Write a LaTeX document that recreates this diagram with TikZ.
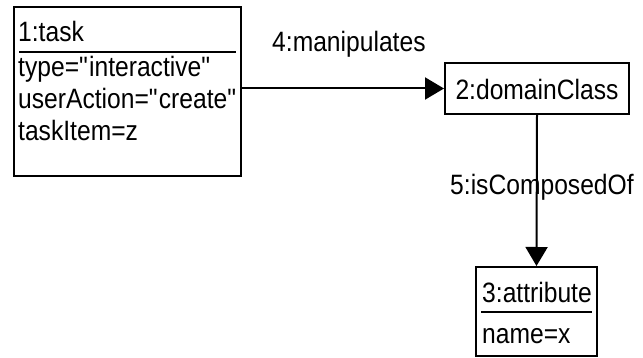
\documentclass[tikz,border=0pt]{standalone}
\usepackage{fontspec}
\setmainfont{Liberation Sans}
\newfontfamily\umlfont{Liberation Sans}[FakeStretch=0.88]
\usetikzlibrary{arrows.meta}

\begin{document}
\begin{tikzpicture}[x=1pt, y=-1pt,
    umlbox/.style={draw, line width=2pt, inner sep=0pt},
    umltext/.style={anchor=base west, inner sep=0pt, font=\umlfont\fontsize{28}{32}\selectfont},
    msgarrow/.style={-{Triangle[length=19pt, width=22pt]}, line width=2pt}]
  \useasboundingbox (0,0) rectangle (643,358);

  % Objects
  \node[umlbox, minimum width=227pt, minimum height=169pt] (task) at (127.5,91.5) {};
  \node[umlbox, minimum width=184pt, minimum height=51pt, text height=23pt, text depth=0pt,
        font=\umlfont\fontsize{28}{32}\selectfont] (domain) at (537,88.5) {2:domainClass};
  \node[umlbox, minimum width=121pt, minimum height=89pt] (attr) at (536.5,311.5) {};

  % Task compartments
  \node[umltext] (taskname) at (18,42) {1:task};
  \draw[line width=2pt] (19,52) -- (236,52);
  \node[umltext] (tasktype) at (18,77) {type=\textquotedbl interactive\textquotedbl};
  \node[umltext] (taskaction) at (18,109) {userAction=\textquotedbl create\textquotedbl};
  \node[umltext] (taskitem) at (18,141) {taskItem=z};

  % Attribute compartments
  \node[umltext] (attrname) at (482,303) {3:attribute};
  \draw[line width=2pt] (481,312) -- (592,312);
  \node[umltext] (attrvalue) at (482,343) {name=x};

  % Links
  \node[umltext] (manip) at (272,52) {4:manipulates};
  \draw[msgarrow] (task.east |- domain.west) -- (domain.west);
  \node[umltext] (compose) at (450,195) {5:isComposedOf};
  \draw[msgarrow] (domain.south) -- (attr.north);
\end{tikzpicture}
\end{document}
